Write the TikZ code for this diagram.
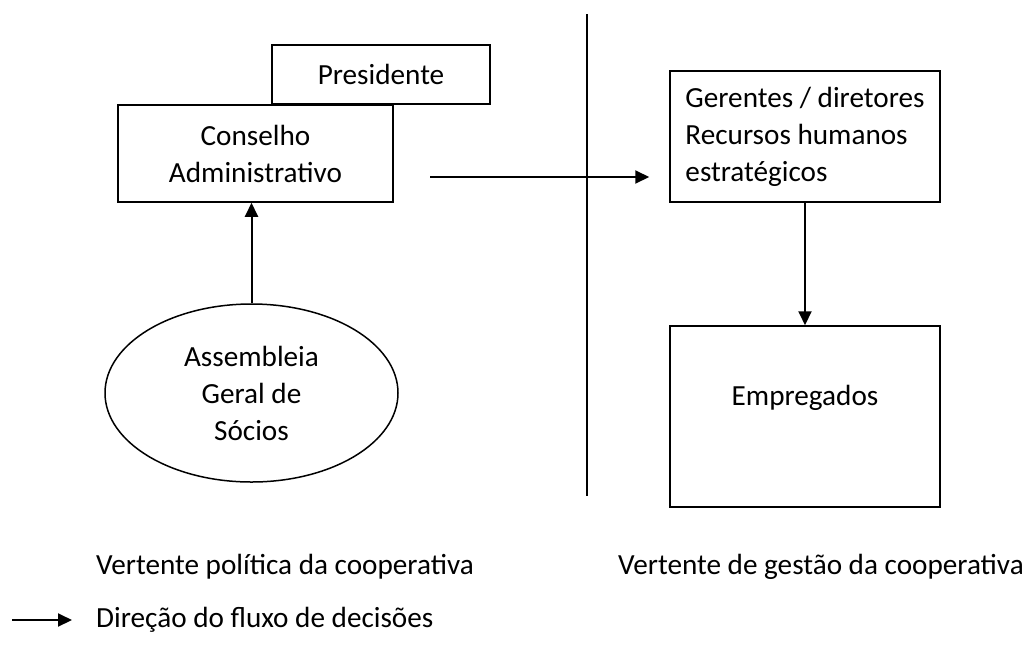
\documentclass[tikz,border=0pt]{standalone}
\usepackage{fontspec}
\setmainfont{Carlito}
\usetikzlibrary{arrows.meta,shapes.geometric}

\tikzset{
  box/.style={draw,line width=1.5pt,inner sep=0pt,align=center},
  flow/.style={line width=2pt,-{Triangle[length=14pt,width=13pt]}},
}

\begin{document}
\begin{tikzpicture}[x=1pt,y=-1pt,font=\fontsize{29.2}{37}\selectfont]
    \useasboundingbox (0,0) rectangle (1027,646);

    \node[box,minimum width=218pt,minimum height=59pt] (pres) at (381,74.5) {Presidente};
    \node[box,fill=white,minimum width=275pt,minimum height=97pt] (cons) at (255.5,153.5) {Conselho\\Administrativo};
    \node[box,ellipse,minimum width=293pt,minimum height=178pt] (ass) at (251.5,393) {Assembleia\\Geral de\\Sócios};

    \node[box,align=left,minimum width=270pt,minimum height=131pt] (ger) at (805,136.5)
      {Gerentes / diretores\\Recursos humanos\\estratégicos};
    \node[box,minimum width=270pt,minimum height=181pt] (emp) at (805,416.5) {Empregados\\[6pt]\mbox{}};

    \coordinate (divtop) at (587,14);
    \coordinate (divbot) at (587,496);
    \draw[line width=1.8pt] (divtop) -- (divbot);

    \draw[flow] (ass.north) -- (ass.north |- cons.south);
    \coordinate (fs) at (430,177);
    \draw[flow,shorten >=20pt] (fs) -- (fs -| ger.west);
    \draw[flow] (ger.south) -- (emp.north);

    \node[anchor=west,inner sep=0pt] (pol) at (96,567) {Vertente política da cooperativa};
    \node[anchor=west,inner sep=0pt] (ges) at (618,567) {Vertente de gestão da cooperativa};

    \node[anchor=west,inner sep=0pt] (legtxt) at (96,620) {Direção do fluxo de decisões};
    \coordinate (legstart) at (12,620);
    \draw[flow,shorten >=24pt] (legstart) -- (legtxt.west);
  \end{tikzpicture}
\end{document}
